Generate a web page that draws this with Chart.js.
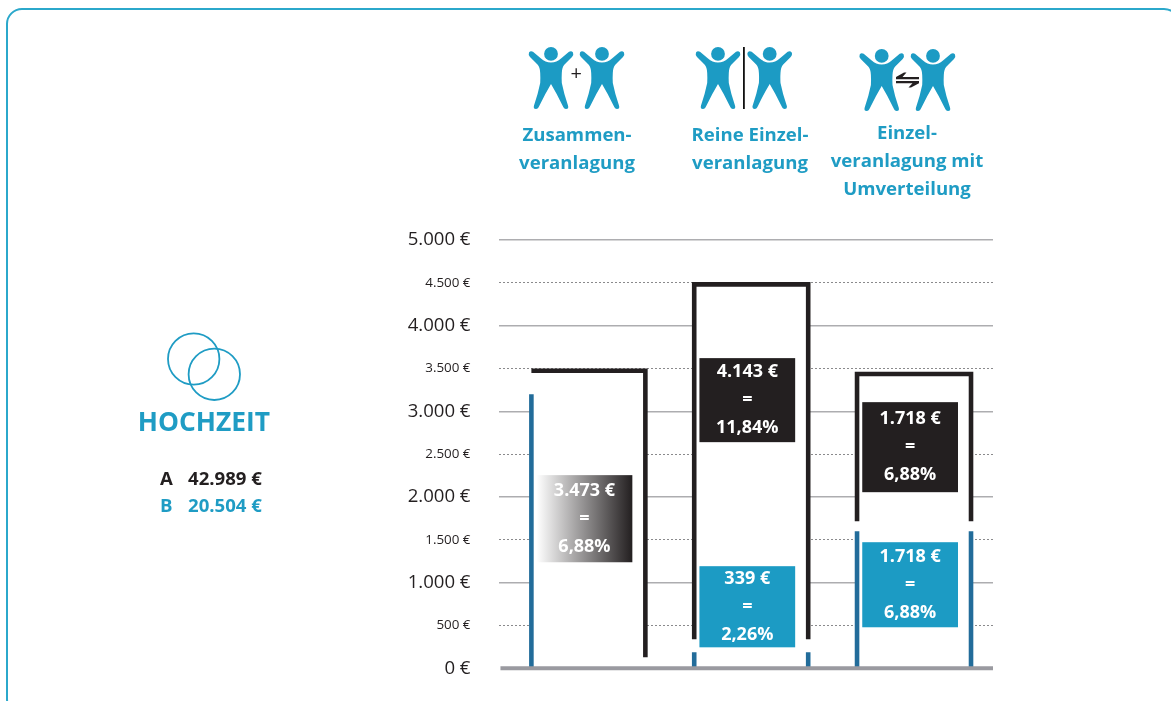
<!DOCTYPE html>
<html lang="de">
<head>
<meta charset="utf-8">
<title>Hochzeit: Veranlagung im Vergleich</title>
<script src="https://cdn.jsdelivr.net/npm/chart.js@4"></script>
<style>
  html, body { margin: 0; padding: 0; background: #fff; width: 1171px; height: 701px; overflow: hidden; }
  body { position: relative; font-family: "Open Sans", sans-serif; color: #1f9cc4; }
  #panel { position: absolute; left: 6px; top: 7.5px; width: 1174px; height: 707px; box-sizing: border-box;
           border: 2px solid #2ba8cb; border-radius: 16px; }
  canvas { position: absolute; left: 0; top: 0; }
  #art { position: absolute; left: 0; top: 0; }
  .t { position: absolute; font-weight: 700; white-space: nowrap; }
  .c { transform: translateX(-50%); text-align: center; }
  .head { font-size: 18.6px; line-height: 27.8px; }
  .sum { font-size: 18.6px; line-height: 24px; }
</style>
</head>
<body>
<div id="panel"></div>
<canvas id="chart" width="1171" height="701"></canvas>

<svg id="art" width="1171" height="701" viewBox="0 0 1171 701">
  <defs>
    <g id="person" fill="#1c9bc4">
      <circle cx="0" cy="6.9" r="6.9"/>
      <path d="M0 15.5 C-4 15.5 -7 14 -10 11.5 L-18 4.8 Q-20.5 3.5 -22 5.5 Q-23 8 -21 10 L-13.5 17.5 Q-11 20 -10.8 26
               Q-10.5 31 -10.8 36 Q-13 47 -17 58.5 Q-18 62 -15 62 Q-13 62 -11.5 58.5 Q-6 47 0 37
               Q6 47 11.5 58.5 Q13 62 15 62 Q18 62 17 58.5 Q13 47 10.8 36 Q10.5 31 10.8 26 Q11 20 13.5 17.5
               L21 10 Q23 8 22 5.5 Q20.5 3.5 18 4.8 L10 11.5 C7 14 4 15.5 0 15.5 Z"/>
    </g>
  </defs>
  <use href="#person" x="551" y="47"/>
  <use href="#person" x="602" y="47"/>
  <use href="#person" x="718" y="47"/>
  <use href="#person" x="769.7" y="47"/>
  <use href="#person" x="881.7" y="49"/>
  <use href="#person" x="933" y="49"/>
  <!-- divider between the two figures -->
  <rect x="743" y="47" width="1.8" height="62" fill="#111"/>
  <!-- exchange arrows -->
  <path d="M896 77 H919 V79.3 H896 Z M896 77 L904 72.6 H906.5 L902.5 77 Z" fill="#231f20"/>
  <path d="M896 81 H919 V83.3 H896 Z M919 83.3 L911 87.6 H908.5 L912.5 83.3 Z" fill="#231f20"/>
  <!-- wedding rings -->
  <g fill="none" stroke="#1f9cc4" stroke-width="1.8">
    <circle cx="193.7" cy="359" r="25.7"/>
    <circle cx="214.3" cy="374.3" r="25.7"/>
  </g>
</svg>

<div class="t c" style="left:576.3px;top:60px;font-size:20px;line-height:26px;font-weight:400;color:#231f20">+</div>
<div class="t c head" style="left:577px;top:120px">Zusammen-<br>veranlagung</div>
<div class="t c head" style="left:750px;top:120px">Reine Einzel-<br>veranlagung</div>
<div class="t c head" style="left:907px;top:118px">Einzel-<br>veranlagung mit<br>Umverteilung</div>

<div class="t c" style="left:204px;top:404px;font-size:26.4px;line-height:34px">HOCHZEIT</div>
<div class="t sum" style="left:160px;top:466px;color:#231f20">A</div>
<div class="t sum" style="left:188px;top:466px;color:#231f20">42.989 €</div>
<div class="t sum" style="left:160px;top:493px">B</div>
<div class="t sum" style="left:188px;top:493px">20.504 €</div>

<script>
// Steuerlast je Veranlagungsart, Partner A und Partner B in Euro
const methods = ["Zusammenveranlagung", "Reine Einzelveranlagung", "Einzelveranlagung mit Umverteilung"];
const columnTotals = [3473, 4482, 3436];
const partnerBLeftLeg = [3200, 187, 1600];
const partnerBRightLeg = [null, 187, 1600];
const partnerALeftLeg = [null, 339, 1718];
const partnerARightLeg = [130, 339, 1718];
const yTickLabels = ["0 €", "500 €", "1.000 €", "1.500 €", "2.000 €", "2.500 €", "3.000 €", "3.500 €", "4.000 €", "4.500 €", "5.000 €"];

// Beschriftete Kästchen: Spalte, Wertebereich auf der Achse, Textzeilen
const boxColumn = [0, 1, 1, 2, 2];
const boxLow = [1238, 2640, 245, 2056, 479];
const boxHigh = [2255, 3621, 1192, 3107, 1472];
const boxAmount = ["3.473 €", "4.143 €", "339 €", "1.718 €", "1.718 €"];
const boxShare = ["6,88%", "11,84%", "2,26%", "6,88%", "6,88%"];
const boxKind = ["shared", "A", "B", "A", "B"];

const INK = "#231f20", LEG_BLUE = "#226c9a", BOX_BLUE = "#1c9bc4";
const HALF_WIDTH = 0.35, BOX_HALF = 0.294, BOX_SHIFT = -0.024;

const line = (data, color, extra) => Object.assign({
  type: "line", data, borderColor: color, borderWidth: 4.6, pointRadius: 0,
  borderCapStyle: "butt", borderJoinStyle: "miter", tension: 0, fill: false, spanGaps: false
}, extra);

// Weiße Fläche je Spalte, die das Raster hinter der Klammer abdeckt
const masks = columnTotals.map((top, c) => line(
  [{ x: c - HALF_WIDTH, y: top }, { x: c + HALF_WIDTH, y: top }],
  "rgba(0,0,0,0)", { borderWidth: 0, fill: "origin", backgroundColor: "#fff", order: 5 }));

const partnerALines = columnTotals.map((top, c) => {
  const pts = [];
  if (partnerALeftLeg[c] !== null) pts.push({ x: c - HALF_WIDTH, y: partnerALeftLeg[c] });
  pts.push({ x: c - HALF_WIDTH, y: top }, { x: c + HALF_WIDTH, y: top });
  pts.push({ x: c + HALF_WIDTH, y: partnerARightLeg[c] });
  return line(pts, INK, { order: 3 });
});

const partnerBLines = methods.flatMap((_, c) => {
  const legs = [line([{ x: c - HALF_WIDTH, y: 0 }, { x: c - HALF_WIDTH, y: partnerBLeftLeg[c] }], LEG_BLUE, { order: 3 })];
  if (partnerBRightLeg[c] !== null) {
    legs.push(line([{ x: c + HALF_WIDTH, y: 0 }, { x: c + HALF_WIDTH, y: partnerBRightLeg[c] }], LEG_BLUE, { order: 3 }));
  }
  return legs;
});

const baseline = line([{ x: -0.54, y: 0 }, { x: 2.485, y: 0 }], "#9a9aa0", { borderWidth: 4, clip: false, order: 1 });

const boxPlugin = {
  id: "valueBoxes",
  afterDatasetsDraw(chart) {
    const { ctx, scales: { x, y } } = chart;
    boxColumn.forEach((c, i) => {
      const left = x.getPixelForValue(c + BOX_SHIFT - BOX_HALF);
      const right = x.getPixelForValue(c + BOX_SHIFT + BOX_HALF);
      const top = y.getPixelForValue(boxHigh[i]);
      const bottom = y.getPixelForValue(boxLow[i]);
      if (boxKind[i] === "shared") {
        const g = ctx.createLinearGradient(left, 0, right, 0);
        g.addColorStop(0, "#ffffff");
        g.addColorStop(1, INK);
        ctx.fillStyle = g;
      } else {
        ctx.fillStyle = boxKind[i] === "A" ? INK : BOX_BLUE;
      }
      ctx.fillRect(left, top, right - left, bottom - top);
      ctx.fillStyle = "#fff";
      ctx.font = '700 18px "Open Sans"';
      ctx.textAlign = "center";
      ctx.textBaseline = "middle";
      const cx = (left + right) / 2, cy = (top + bottom) / 2;
      ctx.fillText(boxAmount[i], cx, cy - 28);
      ctx.fillText("=", cx, cy);
      ctx.fillText(boxShare[i], cx, cy + 28);
    });
  }
};

new Chart(document.getElementById("chart"), {
  data: { datasets: [...masks, ...partnerALines, ...partnerBLines, baseline] },
  plugins: [boxPlugin],
  options: {
    responsive: false,
    animation: false,
    layout: { padding: { left: 0, right: 178, top: 240, bottom: 32.7 } },
    plugins: { legend: { display: false }, tooltip: { enabled: false } },
    scales: {
      x: { type: "linear", display: false, min: -0.552, max: 2.485 },
      y: {
        min: 0, max: 5000,
        afterFit(scale) {
          // Der große Abstand der Beschriftung soll die Plotfläche nicht verkleinern
          scale.width = 498.5;
          scale.paddingTop = 0;
          scale.paddingBottom = 0;
        },
        ticks: {
          stepSize: 500, autoSkip: false, padding: 28, color: INK,
          callback: v => yTickLabels[v / 500],
          font: ctx => ({ family: "Open Sans", size: ctx.tick && ctx.tick.value % 1000 === 0 ? 18.6 : 13.4 })
        },
        border: { display: false, dash: ctx => (ctx.tick.value % 1000 === 0 ? [] : [2, 2]) },
        grid: {
          drawTicks: false,
          color: ctx => (ctx.tick.value === 0 ? "rgba(0,0,0,0)" : ctx.tick.value % 1000 === 0 ? "#adadb0" : "#8a8a8c"),
          lineWidth: ctx => (ctx.tick.value % 1000 === 0 ? 1.4 : 1)
        }
      }
    }
  }
});
</script>
</body>
</html>
